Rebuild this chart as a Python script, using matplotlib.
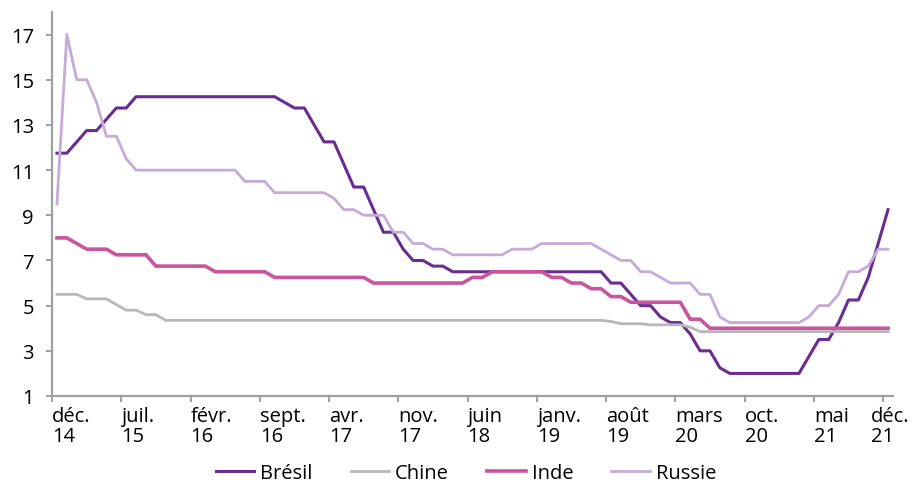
import numpy as np
import matplotlib.pyplot as plt
import matplotlib.transforms as mtransforms

plt.rcParams['font.family'] = ['Open Sans', 'DejaVu Sans']

# Taux directeurs mensuels, de déc. 2014 à déc. 2021
mois = ["déc.\n14", "juil.\n15", "févr.\n16", "sept.\n16", "avr.\n17", "nov.\n17", "juin\n18",
        "janv.\n19", "août\n19", "mars\n20", "oct.\n20", "mai\n21", "déc.\n21"]

bresil = [11.75, 11.75, 12.25, 12.75, 12.75, 13.25, 13.75, 13.75,
          14.25, 14.25, 14.25, 14.25, 14.25, 14.25, 14.25, 14.25, 14.25, 14.25, 14.25, 14.25, 14.25, 14.25, 14.25,
          14.0, 13.75, 13.75, 13.0, 12.25, 12.25, 11.25, 10.25, 10.25, 9.25, 8.25, 8.25, 7.5, 7.0, 7.0, 6.75, 6.75,
          6.5, 6.5, 6.5, 6.5, 6.5, 6.5, 6.5, 6.5, 6.5, 6.5, 6.5, 6.5, 6.5, 6.5, 6.5, 6.5,
          6.0, 6.0, 5.5, 5.0, 5.0, 4.5, 4.25, 4.25, 3.75, 3.0, 3.0, 2.25,
          2.0, 2.0, 2.0, 2.0, 2.0, 2.0, 2.0, 2.0,
          2.75, 3.5, 3.5, 4.25, 5.25, 5.25, 6.25, 7.75, 9.25]

chine = [5.5, 5.5, 5.5, 5.3, 5.3, 5.3, 5.05, 4.8, 4.8, 4.6, 4.6,
         4.35, 4.35, 4.35, 4.35, 4.35, 4.35, 4.35, 4.35, 4.35, 4.35, 4.35, 4.35, 4.35, 4.35, 4.35,
         4.35, 4.35, 4.35, 4.35, 4.35, 4.35, 4.35, 4.35, 4.35, 4.35, 4.35, 4.35, 4.35, 4.35, 4.35,
         4.35, 4.35, 4.35, 4.35, 4.35, 4.35, 4.35, 4.35, 4.35, 4.35, 4.35, 4.35, 4.35, 4.35, 4.35,
         4.3, 4.2, 4.2, 4.2, 4.15, 4.15, 4.15, 4.15, 4.05,
         3.85, 3.85, 3.85, 3.85, 3.85, 3.85, 3.85, 3.85, 3.85, 3.85,
         3.85, 3.85, 3.85, 3.85, 3.85, 3.85, 3.85, 3.85, 3.85, 3.85]

inde = [8.0, 8.0, 7.75, 7.5, 7.5, 7.5, 7.25, 7.25, 7.25, 7.25,
        6.75, 6.75, 6.75, 6.75, 6.75, 6.75, 6.5, 6.5, 6.5, 6.5, 6.5, 6.5,
        6.25, 6.25, 6.25, 6.25, 6.25, 6.25, 6.25, 6.25, 6.25, 6.25,
        6.0, 6.0, 6.0, 6.0, 6.0, 6.0, 6.0, 6.0, 6.0, 6.0,
        6.25, 6.25, 6.5, 6.5, 6.5, 6.5, 6.5, 6.5, 6.25, 6.25, 6.0, 6.0, 5.75, 5.75,
        5.4, 5.4, 5.15, 5.15, 5.15, 5.15, 5.15, 5.15, 4.4, 4.4,
        4.0, 4.0, 4.0, 4.0, 4.0, 4.0, 4.0, 4.0, 4.0, 4.0,
        4.0, 4.0, 4.0, 4.0, 4.0, 4.0, 4.0, 4.0, 4.0]

russie = [9.5, 17.0, 15.0, 15.0, 14.0, 12.5, 12.5, 11.5,
          11.0, 11.0, 11.0, 11.0, 11.0, 11.0, 11.0, 11.0, 11.0, 11.0, 11.0,
          10.5, 10.5, 10.5, 10.0, 10.0, 10.0, 10.0, 10.0, 10.0, 9.75, 9.25, 9.25, 9.0, 9.0, 9.0,
          8.25, 8.25, 7.75, 7.75, 7.5, 7.5, 7.25, 7.25, 7.25, 7.25, 7.25, 7.25, 7.5, 7.5, 7.5,
          7.75, 7.75, 7.75, 7.75, 7.75, 7.75, 7.5, 7.25, 7.0, 7.0, 6.5, 6.5, 6.25, 6.0, 6.0, 6.0,
          5.5, 5.5, 4.5, 4.25, 4.25, 4.25, 4.25, 4.25, 4.25, 4.25, 4.25,
          4.5, 5.0, 5.0, 5.5, 6.5, 6.5, 6.75, 7.5, 7.5]

series = [("Brésil", bresil, "#6b2c91", 2.2),
          ("Chine", chine, "#b8b8b8", 2.0),
          ("Inde", inde, "#c8559d", 2.6),
          ("Russie", russie, "#c6aad8", 2.0)]

fig = plt.figure(figsize=(9.16, 4.85), dpi=100)
ax = fig.add_axes([52 / 916, 1 - 397 / 485, (893 - 52) / 916, (397 - 13) / 485])

x = np.arange(len(bresil))
for nom, valeurs, couleur, epaisseur in series:
    ax.plot(x, valeurs, color=couleur, lw=epaisseur, label=nom, solid_joinstyle='round')

ax.set_xlim(-0.5, len(bresil) - 0.5)
ax.set_ylim(1, 18)
ax.set_yticks(range(1, 18, 2))
ax.set_xticks(np.arange(0, len(bresil), 7) - 0.5, mois)

for cote in ['top', 'right']:
    ax.spines[cote].set_visible(False)
for cote in ['left', 'bottom']:
    ax.spines[cote].set_color('#a0a0a0')
    ax.spines[cote].set_linewidth(1.6)
ax.tick_params(axis='both', colors='#a0a0a0', width=1.4, length=4, labelcolor='black', labelsize=14.5)
ax.tick_params(axis='y', pad=9)
ax.tick_params(axis='x', pad=3)

etiquettes = ax.get_xticklabels()
for lab in etiquettes:
    lab.set_ha('left')
    lab.set_linespacing(1.0)
# la dernière étiquette reste dans le cadre
decalage = mtransforms.ScaledTranslation(-9 / 72, 0, fig.dpi_scale_trans)
etiquettes[-1].set_transform(etiquettes[-1].get_transform() + decalage)

fig.legend(loc='center', bbox_to_anchor=(466 / 916, 1 - 474 / 485), ncol=4, frameon=False,
           fontsize=14.5, handlelength=1.9, handletextpad=0.3, columnspacing=1.9)

fig.savefig('out.png', dpi=100)
